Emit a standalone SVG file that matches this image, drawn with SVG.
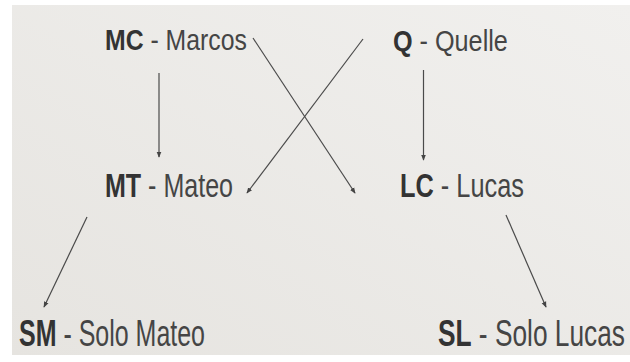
<svg xmlns="http://www.w3.org/2000/svg" width="630" height="362" viewBox="0 0 630 362">
<defs>
<linearGradient id="bg" x1="0" y1="1" x2="1" y2="0">
<stop offset="0" stop-color="#e6e4e0"/>
<stop offset="1" stop-color="#f1f0ee"/>
</linearGradient>
<marker id="ah" viewBox="0 0 8 8" refX="7" refY="4" markerWidth="6" markerHeight="6" markerUnits="userSpaceOnUse" orient="auto">
<path d="M0,0.8 L8,4 L0,7.2 Z" fill="#444"/>
</marker>
<style>
text{font-family:"Liberation Sans",Arial,sans-serif;fill:#454545}
.b{font-weight:bold;fill:#333}
.t{font-size:30px}
.m{font-size:33px}
.l{font-size:36px}
.c line{stroke:#4a4a4a;stroke-width:1.2;marker-end:url(#ah)}
</style>
</defs>
<rect width="630" height="362" fill="#ffffff"/>
<rect x="12" y="5" width="618" height="350" fill="url(#bg)"/>
<g class="c" id="connectors">
<line x1="159" y1="73" x2="159" y2="157"/>
<line x1="423.5" y1="70" x2="423.5" y2="160"/>
<line x1="253" y1="38" x2="355" y2="193"/>
<line x1="363" y1="39" x2="247" y2="193"/>
<line x1="87" y1="217" x2="44" y2="307"/>
<line x1="506" y1="215" x2="546" y2="307"/>
</g>
<g id="MC" class="t" transform="translate(105,50) scale(0.827,1)"><text class="b" x="0" y="0">MC</text><text x="55" y="0">- Marcos</text></g>
<g id="Q" class="t" transform="translate(393,51) scale(0.841,1)"><text class="b" x="0" y="0">Q</text><text x="31.6" y="0">- Quelle</text></g>
<g id="MT" class="m" transform="translate(105,197) scale(0.759,1)"><text class="b" x="0" y="0">MT</text><text x="56.8" y="0">- Mateo</text></g>
<g id="LC" class="m" transform="translate(400,197) scale(0.768,1)"><text class="b" x="0" y="0">LC</text><text x="53.2" y="0">- Lucas</text></g>
<g id="SM" class="l" transform="translate(19,346) scale(0.694,1)"><text class="b" x="0" y="0">SM</text><text x="64" y="0">- Solo Mateo</text></g>
<g id="SL" class="l" transform="translate(438,345.5) scale(0.73,1)"><text class="b" x="0" y="0">SL</text><text x="56" y="0">- Solo Lucas</text></g>
</svg>
